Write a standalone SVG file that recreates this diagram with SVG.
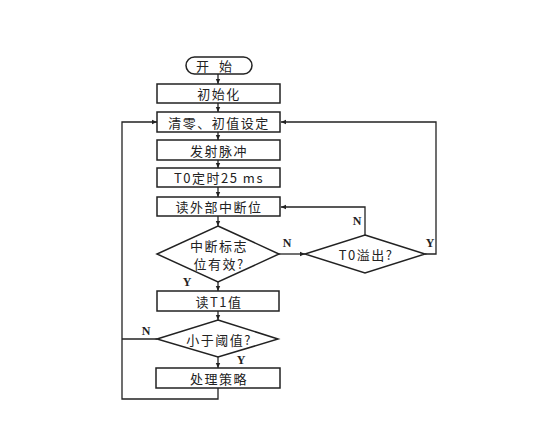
<svg xmlns="http://www.w3.org/2000/svg" width="548" height="431" viewBox="0 0 548 431">
<defs>
<marker id="ah" markerWidth="6" markerHeight="6" refX="5" refY="3" orient="auto" markerUnits="userSpaceOnUse">
<path d="M0,0.8 L5,3 L0,5.2 Z" fill="#222"/>
</marker>
<style>
.n{fill:#fff;stroke:#222;stroke-width:1.5}
.t{font-family:"Noto Sans CJK SC","Liberation Sans",sans-serif;font-size:13px;fill:#222;text-anchor:middle;dominant-baseline:central;letter-spacing:1.5px}
.l{font-family:"Liberation Serif",serif;font-size:12px;font-weight:bold;fill:#222;text-anchor:middle;dominant-baseline:central}
.c{fill:none;stroke:#222;stroke-width:1.3}
</style>
</defs>
<rect width="548" height="431" fill="#fff"/>
<g id="connectors">
<line class="c" x1="218" y1="74" x2="218" y2="84" marker-end="url(#ah)"/>
<line class="c" x1="218" y1="103" x2="218" y2="112" marker-end="url(#ah)"/>
<line class="c" x1="218" y1="132" x2="218" y2="140" marker-end="url(#ah)"/>
<line class="c" x1="218" y1="160" x2="218" y2="168" marker-end="url(#ah)"/>
<line class="c" x1="218" y1="187" x2="218" y2="197" marker-end="url(#ah)"/>
<line class="c" x1="218" y1="216" x2="218" y2="226" marker-end="url(#ah)"/>
<line class="c" x1="218" y1="282" x2="218" y2="291" marker-end="url(#ah)"/>
<line class="c" x1="218" y1="311" x2="218" y2="320" marker-end="url(#ah)"/>
<line class="c" x1="218" y1="357" x2="218" y2="368" marker-end="url(#ah)"/>
<polyline class="c" points="218,388 218,399 122,399 122,122 157,122" marker-end="url(#ah)"/>
<polyline class="c" points="157,339 122,339"/>
<line class="c" x1="279" y1="254" x2="305" y2="254" marker-end="url(#ah)"/>
<polyline class="c" points="365,235 365,207 281,207" marker-end="url(#ah)"/>
<polyline class="c" points="425,254 436,254 436,122 281,122" marker-end="url(#ah)"/>
</g>
<g id="start"><rect class="n" x="186" y="57" width="66" height="17" rx="8.5"/><text class="t" x="219" y="65.5" style="letter-spacing:10px">开始</text></g>
<g id="init"><rect class="n" x="157" y="84" width="123" height="19"/><text class="t" x="219" y="93.5">初始化</text></g>
<g id="clear"><rect class="n" x="157" y="112" width="123" height="20"/><text class="t" x="219" y="122">清零、初值设定</text></g>
<g id="pulse"><rect class="n" x="157" y="140" width="123" height="20"/><text class="t" x="219" y="150">发射脉冲</text></g>
<g id="timer"><rect class="n" x="157" y="168" width="123" height="19"/><text class="t" x="219" y="177.5">T0定时25 ms</text></g>
<g id="read"><rect class="n" x="157" y="197" width="123" height="19"/><text class="t" x="219" y="206.5">读外部中断位</text></g>
<g id="valid"><polygon class="n" points="218,226 279,254 218,282 157,254"/><text class="t" x="219" y="245">中断标志</text><text class="t" x="219" y="263">位有效?</text></g>
<g id="overflow"><polygon class="n" points="365,235 425,254 365,273 305,254"/><text class="t" x="366" y="254">T0溢出?</text></g>
<g id="readT1"><rect class="n" x="157" y="291" width="122" height="20"/><text class="t" x="219" y="301">读T1值</text></g>
<g id="less"><polygon class="n" points="218,320 278,339 218,357 157,339"/><text class="t" x="219" y="339">小于阈值?</text></g>
<g id="process"><rect class="n" x="156" y="368" width="124" height="20"/><text class="t" x="219" y="378">处理策略</text></g>
<g id="labels">
<text class="l" x="187" y="282">Y</text>
<text class="l" x="287" y="243">N</text>
<text class="l" x="357" y="221">N</text>
<text class="l" x="430" y="243">Y</text>
<text class="l" x="146" y="331">N</text>
<text class="l" x="241" y="360">Y</text>
</g>
</svg>
